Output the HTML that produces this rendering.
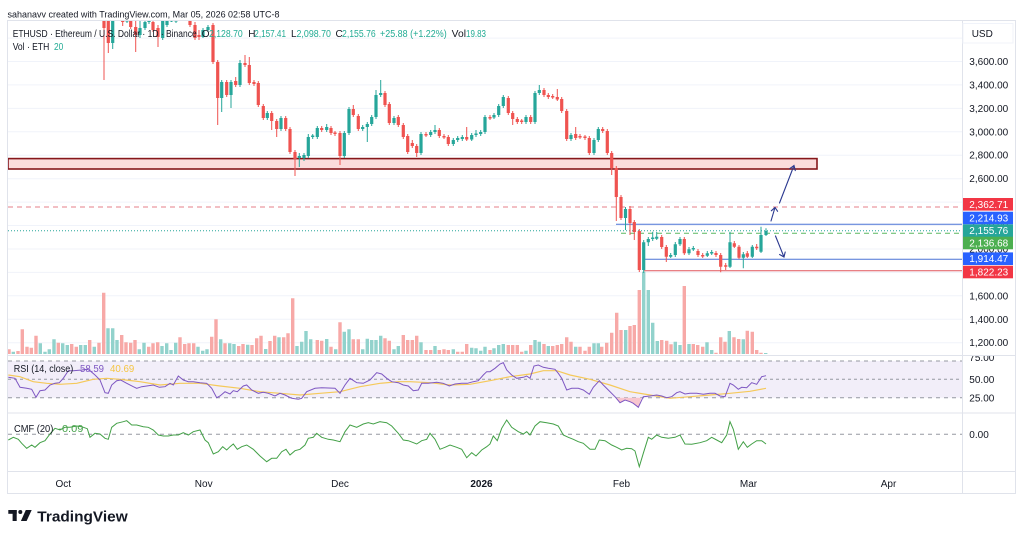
<!DOCTYPE html>
<html><head><meta charset="utf-8"><style>
html,body{margin:0;padding:0;background:#fff;}
svg{display:block;font-family:"Liberation Sans",Arial,sans-serif;}
</style></head><body>
<svg width="1024" height="539" viewBox="0 0 1024 539" xmlns="http://www.w3.org/2000/svg">
<defs>
<clipPath id="pc"><rect x="8" y="21" width="954" height="334"/></clipPath>
<clipPath id="rc"><rect x="8" y="356" width="954" height="57"/></clipPath>
<clipPath id="cc"><rect x="8" y="414" width="954" height="57"/></clipPath>
<clipPath id="ac"><rect x="963" y="356" width="52" height="115"/></clipPath>
</defs>
<rect width="1024" height="539" fill="#fff"/>

<text x="7.5" y="17.5" font-size="9.5" fill="#131722" textLength="272" lengthAdjust="spacingAndGlyphs">sahanavv created with TradingView.com, Mar 05, 2026 02:58 UTC-8</text>

<!-- frame -->
<rect x="7.5" y="20.5" width="1008" height="473" fill="none" stroke="#e0e3eb"/>
<line x1="962.5" y1="20.5" x2="962.5" y2="493.5" stroke="#e0e3eb"/>
<line x1="7.5" y1="355.5" x2="1015.5" y2="355.5" stroke="#e0e3eb"/>
<line x1="7.5" y1="413" x2="1015.5" y2="413" stroke="#e0e3eb"/>
<line x1="7.5" y1="471.5" x2="1015.5" y2="471.5" stroke="#e0e3eb"/>

<!-- grid -->
<g stroke="#f0f3fa" stroke-width="1">
<line x1="8" y1="38.1" x2="962" y2="38.1"/><line x1="8" y1="61.5" x2="962" y2="61.5"/>
<line x1="8" y1="84.9" x2="962" y2="84.9"/><line x1="8" y1="108.4" x2="962" y2="108.4"/>
<line x1="8" y1="131.8" x2="962" y2="131.8"/><line x1="8" y1="155.2" x2="962" y2="155.2"/>
<line x1="8" y1="178.7" x2="962" y2="178.7"/><line x1="8" y1="202.1" x2="962" y2="202.1"/>
<line x1="8" y1="225.5" x2="962" y2="225.5"/><line x1="8" y1="249" x2="962" y2="249"/>
<line x1="8" y1="272.4" x2="962" y2="272.4"/><line x1="8" y1="295.8" x2="962" y2="295.8"/>
<line x1="8" y1="319.3" x2="962" y2="319.3"/><line x1="8" y1="342.7" x2="962" y2="342.7"/>
</g>

<g clip-path="url(#pc)">
<!-- volume -->
<path fill="#f7a9a7" d="M7.3 349.3h3.4V354h-3.4zM16.3 351h3.4V354h-3.4zM20.6 329.3h3.4V354h-3.4zM25.3 346.7h3.4V354h-3.4zM29.6 347.7h3.4V354h-3.4zM34.3 335.7h3.4V354h-3.4zM56.6 342.7h3.4V354h-3.4zM70 344h3.4V354h-3.4zM74.6 346.7h3.4V354h-3.4zM88 340h3.4V354h-3.4zM97.3 342.7h3.4V354h-3.4zM102 292.7h3.4V354h-3.4zM120 335h3.4V354h-3.4zM124.3 342.3h3.4V354h-3.4zM129 342.7h3.4V354h-3.4zM133.3 340h3.4V354h-3.4zM147 346.7h3.4V354h-3.4zM151.3 343.3h3.4V354h-3.4zM156 342.3h3.4V354h-3.4zM178.3 337.3h3.4V354h-3.4zM183 344h3.4V354h-3.4zM187.3 343.3h3.4V354h-3.4zM192 343.3h3.4V354h-3.4zM210 336.7h3.4V354h-3.4zM214.3 319.3h3.4V354h-3.4zM223.3 343.3h3.4V354h-3.4zM237 346h3.4V354h-3.4zM241.3 344h3.4V354h-3.4zM250.3 345h3.4V354h-3.4zM255 338.3h3.4V354h-3.4zM259.3 335.7h3.4V354h-3.4zM268.3 341h3.4V354h-3.4zM273 335.7h3.4V354h-3.4zM282 337.3h3.4V354h-3.4zM286.3 333.3h3.4V354h-3.4zM291 298.3h3.4V354h-3.4zM315.6 340h3.4V354h-3.4zM320 340.7h3.4V354h-3.4zM329.3 346.7h3.4V354h-3.4zM338.3 322.3h3.4V354h-3.4zM351.6 339.3h3.4V354h-3.4zM356.6 339.3h3.4V354h-3.4zM383.3 338.3h3.4V354h-3.4zM387.6 340.7h3.4V354h-3.4zM401.6 335h3.4V354h-3.4zM406 340h3.4V354h-3.4zM410.6 340h3.4V354h-3.4zM415 335.7h3.4V354h-3.4zM424.3 350h3.4V354h-3.4zM429 350h3.4V354h-3.4zM437.6 350h3.4V354h-3.4zM442.3 349.3h3.4V354h-3.4zM446.6 350h3.4V354h-3.4zM456 351.7h3.4V354h-3.4zM460.6 351.7h3.4V354h-3.4zM465 344h3.4V354h-3.4zM488.3 350h3.4V354h-3.4zM506.6 345h3.4V354h-3.4zM511 345h3.4V354h-3.4zM515.6 345h3.4V354h-3.4zM520 351.7h3.4V354h-3.4zM529 345h3.4V354h-3.4zM542.3 344h3.4V354h-3.4zM551 346h3.4V354h-3.4zM555.6 345h3.4V354h-3.4zM560 344h3.4V354h-3.4zM565 337.3h3.4V354h-3.4zM569.3 341.7h3.4V354h-3.4zM578.3 346.7h3.4V354h-3.4zM583.3 350.7h3.4V354h-3.4zM587.6 346.7h3.4V354h-3.4zM600 346.7h3.4V354h-3.4zM605 342.7h3.4V354h-3.4zM610 332.7h3.4V354h-3.4zM615 312.7h3.4V354h-3.4zM619.3 330h3.4V354h-3.4zM628.3 326h3.4V354h-3.4zM632.6 325h3.4V354h-3.4zM637.6 290h3.4V354h-3.4zM660 340h3.4V354h-3.4zM665 340.7h3.4V354h-3.4zM669.3 344.3h3.4V354h-3.4zM682.6 286h3.4V354h-3.4zM691.6 344h3.4V354h-3.4zM696 345h3.4V354h-3.4zM701 346.7h3.4V354h-3.4zM714.3 352.7h3.4V354h-3.4zM719 337.3h3.4V354h-3.4zM723.3 341.7h3.4V354h-3.4zM732.3 337.3h3.4V354h-3.4zM737 339h3.4V354h-3.4zM745.6 330.7h3.4V354h-3.4zM750.6 331.7h3.4V354h-3.4zM755 350h3.4V354h-3.4zM759.3 352.7h3.4V354h-3.4z"/>
<path fill="#92d2cc" d="M11.6 351.7h3.4V354h-3.4zM38.6 343.3h3.4V354h-3.4zM43.3 351.7h3.4V354h-3.4zM47.6 349.3h3.4V354h-3.4zM52.3 339.3h3.4V354h-3.4zM61 343.3h3.4V354h-3.4zM65.6 345h3.4V354h-3.4zM79 345h3.4V354h-3.4zM83.6 345h3.4V354h-3.4zM92.6 346.7h3.4V354h-3.4zM106.3 328.3h3.4V354h-3.4zM111 328.3h3.4V354h-3.4zM115.3 340h3.4V354h-3.4zM137.6 349.3h3.4V354h-3.4zM142.3 342.7h3.4V354h-3.4zM160.3 346h3.4V354h-3.4zM165 343.3h3.4V354h-3.4zM169.3 350h3.4V354h-3.4zM174 342.7h3.4V354h-3.4zM196.3 346.7h3.4V354h-3.4zM201 350.7h3.4V354h-3.4zM205.3 349.3h3.4V354h-3.4zM219 339.3h3.4V354h-3.4zM228 343.3h3.4V354h-3.4zM232.3 344h3.4V354h-3.4zM246 344.7h3.4V354h-3.4zM264 349h3.4V354h-3.4zM277.3 337.3h3.4V354h-3.4zM295.3 346h3.4V354h-3.4zM300 341.7h3.4V354h-3.4zM304.3 331h3.4V354h-3.4zM309 339.3h3.4V354h-3.4zM325 339h3.4V354h-3.4zM334 349.3h3.4V354h-3.4zM342.6 331.7h3.4V354h-3.4zM347.3 329.3h3.4V354h-3.4zM361 349.3h3.4V354h-3.4zM365.6 338.7h3.4V354h-3.4zM370 340h3.4V354h-3.4zM374.3 340h3.4V354h-3.4zM379 335.7h3.4V354h-3.4zM392.3 349.3h3.4V354h-3.4zM396.6 346h3.4V354h-3.4zM419.3 342.3h3.4V354h-3.4zM433.3 346h3.4V354h-3.4zM451.6 349.3h3.4V354h-3.4zM470 347.7h3.4V354h-3.4zM474.3 348.3h3.4V354h-3.4zM479 350.7h3.4V354h-3.4zM483.3 346.7h3.4V354h-3.4zM492.3 348.3h3.4V354h-3.4zM497 345h3.4V354h-3.4zM501.6 344h3.4V354h-3.4zM524.3 350.7h3.4V354h-3.4zM533.3 340h3.4V354h-3.4zM537.6 341.7h3.4V354h-3.4zM546.6 346h3.4V354h-3.4zM574 346.7h3.4V354h-3.4zM592.3 343.3h3.4V354h-3.4zM596.6 343.3h3.4V354h-3.4zM624 330h3.4V354h-3.4zM642 271.7h3.4V354h-3.4zM646.6 290h3.4V354h-3.4zM651 322.7h3.4V354h-3.4zM655.6 341h3.4V354h-3.4zM673.6 341.7h3.4V354h-3.4zM678.3 345h3.4V354h-3.4zM687.3 344h3.4V354h-3.4zM705.3 342.3h3.4V354h-3.4zM710 350h3.4V354h-3.4zM727.6 331h3.4V354h-3.4zM741.6 339.3h3.4V354h-3.4zM764 353h3.4V354h-3.4z"/>

<!-- zone -->
<rect x="8" y="158.6" width="809" height="10.4" fill="#fbdcdc" stroke="#86171b" stroke-width="1.6"/>

<!-- level lines -->
<line x1="8" y1="207" x2="962" y2="207" stroke="#e57f8a" stroke-dasharray="5 4"/>
<line x1="616" y1="224.3" x2="962" y2="224.3" stroke="#4c74d6"/>
<line x1="8" y1="230.8" x2="962" y2="230.8" stroke="#26a69a" stroke-dasharray="1 2"/>
<line x1="621" y1="233.3" x2="962" y2="233.3" stroke="#5cb860" stroke-dasharray="5 4"/>
<line x1="644" y1="259.3" x2="962" y2="259.3" stroke="#4c74d6"/>
<line x1="644" y1="270.7" x2="962" y2="270.7" stroke="#e0565c"/>

<!-- candles -->
<path stroke="#ef5350" stroke-width="1" fill="none" d="M104 20V80M108.3 20V53M122.7 20V26M130.7 20V29M135.7 20V52M153 20V32M158 25V47M190 20V27M195 22V40M199 30V40M213 23V64M217.7 60V125M226.7 80V97M235.7 77V87M245 55V67M249.3 57V85M254 80V86M258.3 81V107M263.3 104V120M271.7 111V130M276.7 119V137M285.7 116V131M290 127V154M295 150V176M321.7 126V132M331 126V135M335 131V136M340 131V165M353.3 105V117M358.3 114V131M385 91V107M389.3 102V125M398.3 115V127M403.3 123V139M407.7 134V154M412.3 140V148M416.7 144V157M426 132V137M439.3 128V138M444 134V139M448.3 135V146M466.7 127V141M490 115V120M508.3 96V115M512.7 111V125M517.3 117V124M521.7 119V124M530.7 115V124M544 88V97M548.3 93V99M552.7 94V99M557.3 89V101M561.7 97V113M566.7 109V141M575.7 127V140M580 134V139M585 135V140M589.3 136V155M602.7 127V133M607.3 129V155M611.7 151V175M616.3 166V221M621 195V220M630 206V235M634.3 220V240M639.3 229V272M661.7 235V249M666.3 245V262M684.3 237V255M698 249V257M702.7 253V258M716 251V257M720.7 253V272.3M725.7 263V270M734.3 241V248M739 245V259M747.3 251V258M756.7 244V250"/>
<path fill="#ef5350" d="M102.4 20h3.2V28h-3.2zM106.7 20h3.2V43h-3.2zM121.1 20h3.2V22h-3.2zM129.1 20h3.2V27h-3.2zM134.1 27h3.2V35h-3.2zM151.4 22h3.2V30h-3.2zM156.4 28h3.2V37h-3.2zM188.4 20h3.2V25h-3.2zM193.4 25h3.2V38h-3.2zM197.4 35h3.2V37h-3.2zM211.4 25h3.2V62h-3.2zM216.1 62h3.2V98h-3.2zM225.1 82h3.2V95h-3.2zM234.1 81h3.2V85h-3.2zM243.4 63h3.2V65h-3.2zM247.7 65h3.2V83h-3.2zM252.4 82h3.2V84h-3.2zM256.7 83h3.2V105h-3.2zM261.7 106h3.2V118h-3.2zM270.1 113h3.2V121h-3.2zM275.1 121h3.2V129h-3.2zM284.1 118h3.2V129h-3.2zM288.4 129h3.2V152h-3.2zM293.4 152h3.2V159h-3.2zM320.1 128h3.2V130h-3.2zM329.4 128h3.2V133h-3.2zM333.4 132.5h3.2V134h-3.2zM338.4 133h3.2V156h-3.2zM351.7 109h3.2V115h-3.2zM356.7 116h3.2V129h-3.2zM383.4 93h3.2V105h-3.2zM387.7 104h3.2V123h-3.2zM396.7 117h3.2V125h-3.2zM401.7 125h3.2V137h-3.2zM406.1 136h3.2V152h-3.2zM410.7 143h3.2V146h-3.2zM415.1 146h3.2V153h-3.2zM424.4 134h3.2V135.5h-3.2zM437.7 130h3.2V136h-3.2zM442.4 136h3.2V137.5h-3.2zM446.7 137h3.2V144h-3.2zM465.1 137h3.2V139.5h-3.2zM488.4 117h3.2V118.5h-3.2zM506.7 98h3.2V113h-3.2zM511.1 113h3.2V119h-3.2zM515.7 119h3.2V122h-3.2zM520.1 120.5h3.2V122h-3.2zM529.1 117h3.2V122h-3.2zM542.4 90h3.2V95h-3.2zM546.7 95h3.2V97h-3.2zM551.1 96h3.2V97.5h-3.2zM555.7 97h3.2V99.5h-3.2zM560.1 99h3.2V111h-3.2zM565.1 111h3.2V139h-3.2zM574.1 134h3.2V138h-3.2zM578.4 136h3.2V137.5h-3.2zM583.4 136.5h3.2V138h-3.2zM587.7 138h3.2V153h-3.2zM601.1 129h3.2V131h-3.2zM605.7 131h3.2V153h-3.2zM610.1 153h3.2V168h-3.2zM614.7 168h3.2V197h-3.2zM619.4 197h3.2V218h-3.2zM628.4 209h3.2V223h-3.2zM632.7 222h3.2V232h-3.2zM637.7 231h3.2V270h-3.2zM660.1 237h3.2V247h-3.2zM664.7 247h3.2V256.7h-3.2zM682.7 239h3.2V253.3h-3.2zM696.4 251h3.2V255h-3.2zM701.1 255h3.2V256.5h-3.2zM714.4 253h3.2V255h-3.2zM719.1 255h3.2V266.7h-3.2zM724.1 265.2h3.2V266.7h-3.2zM732.7 243.3h3.2V246.7h-3.2zM737.4 246.7h3.2V257.7h-3.2zM745.7 253.3h3.2V256.7h-3.2zM755.1 246.7h3.2V248.3h-3.2z"/>
<path stroke="#26a69a" stroke-width="1" fill="none" d="M112.7 20V49M127 20V23M140 20V38M145 20V30M149 20V24M162.7 20V40M167 20V27M171.5 20V22M176 20V23M203 28V38M208 25V32M221.7 80V112M231 80V108M240 60V87M267.3 111V120M281 116V131M299.3 153V167M304 153V161M308.3 134V158M312.7 134V139M317.3 126V139M326.7 124V132M344.3 131V158M349 107V135M362.7 125V131M367.3 122V142M371.7 115V126M376 90V119M380.7 80V97M394 116V125M421 132V155M430.7 130V137M435 125V134M453.3 138V146M457.7 136V142M462.3 135V141M471.7 133V141M476 130V137M480.7 130V136M485 115V134M494 113V119M498.7 104V117M503.3 95V108M526 115V124M535 91V124M539.3 85V95M571 133V141M594 138V155M598.3 127V142M625.5 207V230M643.7 240V273M648.3 237V246M652.7 231.7V241M656.7 232V240M670.7 253V258M675.3 242V257M680 237V246M689 247V255M693.3 246V251M707.3 251V257M711.7 250V255M730 231.7V268M743.3 252V268.3M752.3 245V258M761 226.7V253M766 228.3V236"/>
<path fill="#26a69a" d="M111.1 20h3.2V43h-3.2zM125.4 20h3.2V21.5h-3.2zM138.4 28h3.2V35h-3.2zM143.4 22h3.2V28h-3.2zM147.4 20h3.2V22h-3.2zM161.1 20h3.2V38h-3.2zM165.4 20h3.2V25h-3.2zM169.9 20h3.2V21.5h-3.2zM174.4 20h3.2V21.5h-3.2zM201.4 30h3.2V37h-3.2zM206.4 27h3.2V30h-3.2zM220.1 82h3.2V98h-3.2zM229.4 82h3.2V95h-3.2zM238.4 63h3.2V85h-3.2zM265.7 113h3.2V118h-3.2zM279.4 118h3.2V129h-3.2zM297.7 156h3.2V158h-3.2zM302.4 155h3.2V158h-3.2zM306.7 137h3.2V156h-3.2zM311.1 135.5h3.2V137h-3.2zM315.7 128h3.2V137h-3.2zM325.1 127h3.2V130h-3.2zM342.7 133h3.2V156h-3.2zM347.4 109h3.2V133h-3.2zM361.1 127h3.2V129h-3.2zM365.7 124h3.2V127h-3.2zM370.1 117h3.2V124h-3.2zM374.4 95h3.2V117h-3.2zM379.1 93h3.2V95h-3.2zM392.4 118h3.2V123h-3.2zM419.4 134h3.2V153h-3.2zM429.1 132h3.2V135h-3.2zM433.4 130h3.2V132h-3.2zM451.7 140h3.2V144h-3.2zM456.1 138h3.2V140h-3.2zM460.7 137h3.2V139h-3.2zM470.1 135h3.2V139.5h-3.2zM474.4 133.5h3.2V135h-3.2zM479.1 132h3.2V134h-3.2zM483.4 117h3.2V132h-3.2zM492.4 115h3.2V117.5h-3.2zM497.1 106h3.2V115h-3.2zM501.7 97h3.2V106h-3.2zM524.4 117h3.2V122h-3.2zM533.4 93h3.2V122h-3.2zM537.7 90h3.2V93h-3.2zM569.4 135h3.2V139h-3.2zM592.4 140h3.2V153h-3.2zM596.7 129h3.2V140h-3.2zM623.9 209h3.2V218h-3.2zM642.1 242.3h3.2V270h-3.2zM646.7 239h3.2V242.3h-3.2zM651.1 237.5h3.2V239h-3.2zM655.1 236.7h3.2V238.7h-3.2zM669.1 255h3.2V256.7h-3.2zM673.7 244.3h3.2V255h-3.2zM678.4 239h3.2V244.3h-3.2zM687.4 249.3h3.2V253.3h-3.2zM691.7 248h3.2V249.5h-3.2zM705.7 253.3h3.2V255.7h-3.2zM710.1 252h3.2V253.5h-3.2zM728.4 242.3h3.2V266.7h-3.2zM741.7 254.3h3.2V257.7h-3.2zM750.7 246.7h3.2V256.7h-3.2zM759.4 235h3.2V251.7h-3.2zM764.4 231h3.2V235h-3.2z"/>

<!-- arrows -->
<g stroke="#2b3990" stroke-width="1.1" fill="none" stroke-linecap="round">
<path d="M771 221L775 207.5M771.3 210.8L775 207.5L777.6 211.3"/>
<path d="M779.5 203L794 165.5M789.8 168.6L794 165.5L795.3 170.6"/>
<path d="M775.5 236L784 257M779.6 254.5L784 257L785.2 252"/>
</g>
</g>

<!-- legend header -->
<g font-size="10" fill="#131722">
<text x="12.7" y="37" textLength="184" lengthAdjust="spacingAndGlyphs">ETHUSD · Ethereum / U.S. Dollar · 1D · Binance</text>
<text x="201.7" y="37">O</text><text x="209" y="37" fill="#22ab94" textLength="33.7" lengthAdjust="spacingAndGlyphs">2,128.70</text>
<text x="248.3" y="37">H</text><text x="254.3" y="37" fill="#22ab94" textLength="31.7" lengthAdjust="spacingAndGlyphs">2,157.41</text>
<text x="291" y="37">L</text><text x="296.5" y="37" fill="#22ab94" textLength="34.5" lengthAdjust="spacingAndGlyphs">2,098.70</text>
<text x="335.5" y="37">C</text><text x="342" y="37" fill="#22ab94" textLength="33.7" lengthAdjust="spacingAndGlyphs">2,155.76</text>
<text x="380" y="37" fill="#22ab94" textLength="66.7" lengthAdjust="spacingAndGlyphs">+25.88 (+1.22%)</text>
<text x="451.7" y="37" textLength="14.3" lengthAdjust="spacingAndGlyphs">Vol</text><text x="466" y="37" fill="#22ab94" textLength="20" lengthAdjust="spacingAndGlyphs">19.83</text>
<text x="12.7" y="50.2" textLength="36.6" lengthAdjust="spacingAndGlyphs">Vol · ETH</text><text x="54" y="50.2" fill="#22ab94" textLength="9.3" lengthAdjust="spacingAndGlyphs">20</text>
</g>

<!-- price axis -->
<rect x="963" y="23.5" width="50" height="19.5" fill="#fff" stroke="#f0f3fa"/>
<text x="971.7" y="36.8" font-size="10" fill="#131722">USD</text>
<g font-size="10" fill="#131722">
<text x="969.3" y="65">3,600.00</text><text x="969.3" y="88.4">3,400.00</text>
<text x="969.3" y="111.9">3,200.00</text><text x="969.3" y="135.3">3,000.00</text>
<text x="969.3" y="158.7">2,800.00</text><text x="969.3" y="182.2">2,600.00</text>
<text x="969.3" y="205.6">2,400.00</text><text x="969.3" y="229">2,200.00</text>
<text x="969.3" y="252.5">2,000.00</text><text x="969.3" y="275.9">1,800.00</text>
<text x="969.3" y="299.3">1,600.00</text><text x="969.3" y="322.8">1,400.00</text>
<text x="969.3" y="346.2">1,200.00</text>
</g>
<g font-size="10" fill="#fff">
<rect x="963" y="198" width="50" height="12.6" fill="#f23645"/><text x="969.3" y="207.8">2,362.71</text>
<rect x="963" y="211.7" width="50" height="12.6" fill="#2962ff"/><text x="969.3" y="221.5">2,214.93</text>
<rect x="963" y="224.4" width="50" height="12.6" fill="#26a69a"/><text x="969.3" y="234.2">2,155.76</text>
<rect x="963" y="236.7" width="50" height="12.6" fill="#4caf50"/><text x="969.3" y="246.5">2,136.68</text>
<rect x="963" y="252.4" width="50" height="12.6" fill="#2962ff"/><text x="969.3" y="262.2">1,914.47</text>
<rect x="963" y="265.7" width="50" height="12.6" fill="#f23645"/><text x="969.3" y="275.5">1,822.23</text>
</g>

<!-- RSI pane -->
<g clip-path="url(#rc)">
<rect x="8" y="361" width="954" height="36.7" fill="#f2eef9"/>
<g stroke="#9598a1" stroke-width="1" stroke-dasharray="4 4">
<line x1="8" y1="361" x2="962" y2="361"/>
<line x1="8" y1="379.3" x2="962" y2="379.3" stroke-dasharray="3 3"/>
<line x1="8" y1="397.7" x2="962" y2="397.7"/>
</g>
<polygon fill="#f8c6cf" points="616.5,397.7 620,402.7 625,400 630,401.7 633.3,403.3 638.3,407.3 641.5,397.7"/>
<polyline fill="none" stroke="#f5c95a" stroke-width="1.2" points="8.3,375 20,376.7 33.3,381.7 46.7,383.3 60,384.3 76.7,383.3 93.3,379.3 106.7,378.3 120,379.3 140,381.7 160,385 180,383.3 200,383.3 220,386 240,388.3 260,391.7 280,393.3 300,395 320,393.3 340,391.7 360,386.7 380,383.3 398.3,381.7 410,381.7 430,382.7 450,385 470,384.3 490,380.7 510,376.7 530,374 543.3,370.7 556.7,370.7 570,375 590,379.3 610,385 630,391.7 650,395 670,398.3 690,396.7 710,395 730,393.3 750,391.3 766,388.3"/>
<polyline fill="none" stroke="#7e57c2" stroke-width="1" points="8.3,377.3 15,378.3 20,387.3 26.7,388.3 31.7,389.3 36,397.3 40,390.7 45,390 50,385 55,383.3 59.3,382.7 63.3,378.3 68.3,370.7 73.3,370.7 81.7,370 87.3,369.3 90,370.7 95,375 100,380 105,392.7 108.3,393.3 111.7,385 116.7,380.7 120.7,380 126.7,383.3 133.3,386.7 136.7,388.3 141.7,386.7 146.7,386 153.3,385 159.3,387.3 165,386.7 170,383.3 173.3,385 178.3,376 183.3,380 188.3,381.7 193.3,381.7 200,382.7 206.7,383.3 211.7,388.3 216.7,397.7 220,396 225,391.7 230,394 233.3,390.7 237.3,391.7 243.3,386 246.7,385 251.7,390 258.3,393.3 263.3,392.3 268.3,393.3 275,396 280,393.3 285,395 291.7,398.3 298.3,399.3 301.7,398.3 306.7,391.7 315,388.3 321.7,387.7 335,388.3 340,393.3 345,385 350,378.3 356.7,382.7 363.3,383.3 370,380 376.7,372.7 381.7,374 386.7,378.3 391.7,381.7 398.3,382.7 403.3,385 408.3,386 413.3,390.7 418.3,390 421.7,383.3 428.3,383.3 436.7,382.3 443.3,383.3 449.3,386 455,384 461.7,383.3 467.3,383.3 473.3,381.7 478.3,380.7 483.3,375 486.7,371.7 490,371.7 495,368.3 500,364 503.3,362.7 506.7,370 511.7,375 516.7,378.3 523.3,377.3 526.7,376 530,378.3 534,366 538.3,365 543.3,367.3 548.3,368.3 555,369.3 558.3,373.3 561.7,378.3 566.7,390 571.7,388.3 578.3,388.3 583.3,390 589.3,394.3 593.3,387.3 599.3,380.7 603.3,385 608.3,390 615,396.7 620,402.7 625,400 630,401.7 633.3,403.3 638.3,407.3 643.3,396.7 650,396 656.7,395 661.7,396 666.7,397.7 671.7,396.7 676.7,392.7 680,391.7 685,394 690,393.3 696.7,393.3 703.3,394.3 710,393.3 715,393.3 720,396 725,396.7 730,383.3 733.3,385 738.3,389.3 741.7,387.3 746.7,387.7 751.7,382.7 756.7,384.3 761.7,376.7 766,375.7"/>
</g>
<text x="13.7" y="371.8" font-size="10" fill="#131722" textLength="59.6" lengthAdjust="spacingAndGlyphs">RSI (14, close)</text>
<text x="80" y="371.8" font-size="10" fill="#7e57c2" textLength="24" lengthAdjust="spacingAndGlyphs">58.59</text>
<text x="110" y="371.8" font-size="10" fill="#f5c542" textLength="24.3" lengthAdjust="spacingAndGlyphs">40.69</text>
<g clip-path="url(#ac)" font-size="10" fill="#131722">
<text x="969.3" y="361">75.00</text>
<text x="969.3" y="383">50.00</text>
<text x="969.3" y="401.5">25.00</text>
<text x="969.3" y="438">0.00</text>
</g>

<!-- CMF pane -->
<g clip-path="url(#cc)">
<line x1="8" y1="434.3" x2="962" y2="434.3" stroke="#9598a1" stroke-dasharray="4 4"/>
<polyline fill="none" stroke="#43a047" stroke-width="1" points="8.3,440 13.3,437.3 18.3,439.3 21.7,443.3 26.7,448.3 31.7,445 35,447.3 40,442.7 45,440.7 50,434 55,428.3 60,430 65,427.3 70,427.3 76.7,426 81.7,426.7 87.3,428.7 90,437.3 95,433.3 100,434 105,438.3 108.3,439.3 111.7,427.3 116.7,423.3 123.3,421.7 126.7,420.7 131.7,425 136.7,425 143.3,426.7 148.3,427.3 153.3,430 158.3,435 163.3,436 168.3,436 173.3,435 178.3,435 183.3,432.7 188.3,435 193.3,431.7 200,430 205,440 208.3,442.7 213.3,454 218.3,451.7 222.7,446.7 226.7,450 230,446.7 233.3,444 237.3,449.3 241.7,446.7 246.7,445 253.3,449.3 260,456 266.7,461.7 271.7,458.3 276.7,458.3 281.7,451.7 286,449.3 290,455 295,450.7 300,449.3 305,445 308.3,438.3 313.3,437.3 316.7,433.3 321.7,437.3 328.3,439.3 333.3,440 340,441.7 345,431.7 350,425 356.7,427.3 363.3,424 368.3,422.7 373.3,424 380,421.7 386.7,422.7 391.7,426 398.3,433.3 403.3,440 408.3,440.7 416.7,444 421.7,440.7 426.7,439.3 430,433.3 435,439.3 440,449.3 445,447.3 450,445 456.7,447.3 461.7,449.3 466.7,457.7 471.7,452.7 476,456 481.7,450 486.7,446.7 490,444 493.3,436 497.3,440.7 501.7,428.3 506.7,420 511.7,427.3 518.3,431.7 523.3,434 526.7,431.7 530,435 535,426 540,421.7 546.7,422.7 553.3,424 558.3,426 563.3,435 568.3,437.3 573.3,439.3 578.3,441.7 583.3,443.3 590,449.3 595,449.3 599.3,440 605,440.7 611.7,445 616.7,447.3 621.7,450 626.7,448.3 631.7,448.7 635,451 639.3,466.7 643.3,453.3 648.3,437.3 651.7,439.3 656.7,435 661.7,437.3 668.3,438.3 675,437.3 680,435 685,444 691.7,444.3 700,442.7 706.7,440.7 711.7,437.3 716.7,440 721.7,442.7 726.7,435 730,421.7 733.3,429.3 738.3,449.3 743.3,441.7 747.3,447.3 751.7,444 756.7,440.7 761.7,440.7 766,444"/>
</g>
<text x="14" y="431.8" font-size="10" fill="#131722" textLength="39.3" lengthAdjust="spacingAndGlyphs">CMF (20)</text>
<text x="58.3" y="431.8" font-size="10" fill="#43a047" textLength="25" lengthAdjust="spacingAndGlyphs">-0.09</text>

<!-- time axis -->
<g font-size="10" fill="#131722" text-anchor="middle">
<text x="63.3" y="487">Oct</text>
<text x="203.7" y="487">Nov</text>
<text x="340" y="487">Dec</text>
<text x="481.5" y="487" font-weight="bold">2026</text>
<text x="621.5" y="487">Feb</text>
<text x="748.5" y="487">Mar</text>
<text x="888.5" y="487">Apr</text>
</g>

<!-- logo -->
<g fill="#131722">
<rect x="8.3" y="510" width="8.4" height="3.8"/>
<rect x="12.6" y="510" width="4.1" height="11"/>
<circle cx="20.3" cy="512" r="2"/>
<polygon points="25.8,510 31.7,510 26.6,521 20.9,521"/>
</g>
<text x="37.3" y="521.3" font-size="15" font-weight="bold" fill="#131722" textLength="90.4" lengthAdjust="spacingAndGlyphs">TradingView</text>
</svg>
</body></html>
